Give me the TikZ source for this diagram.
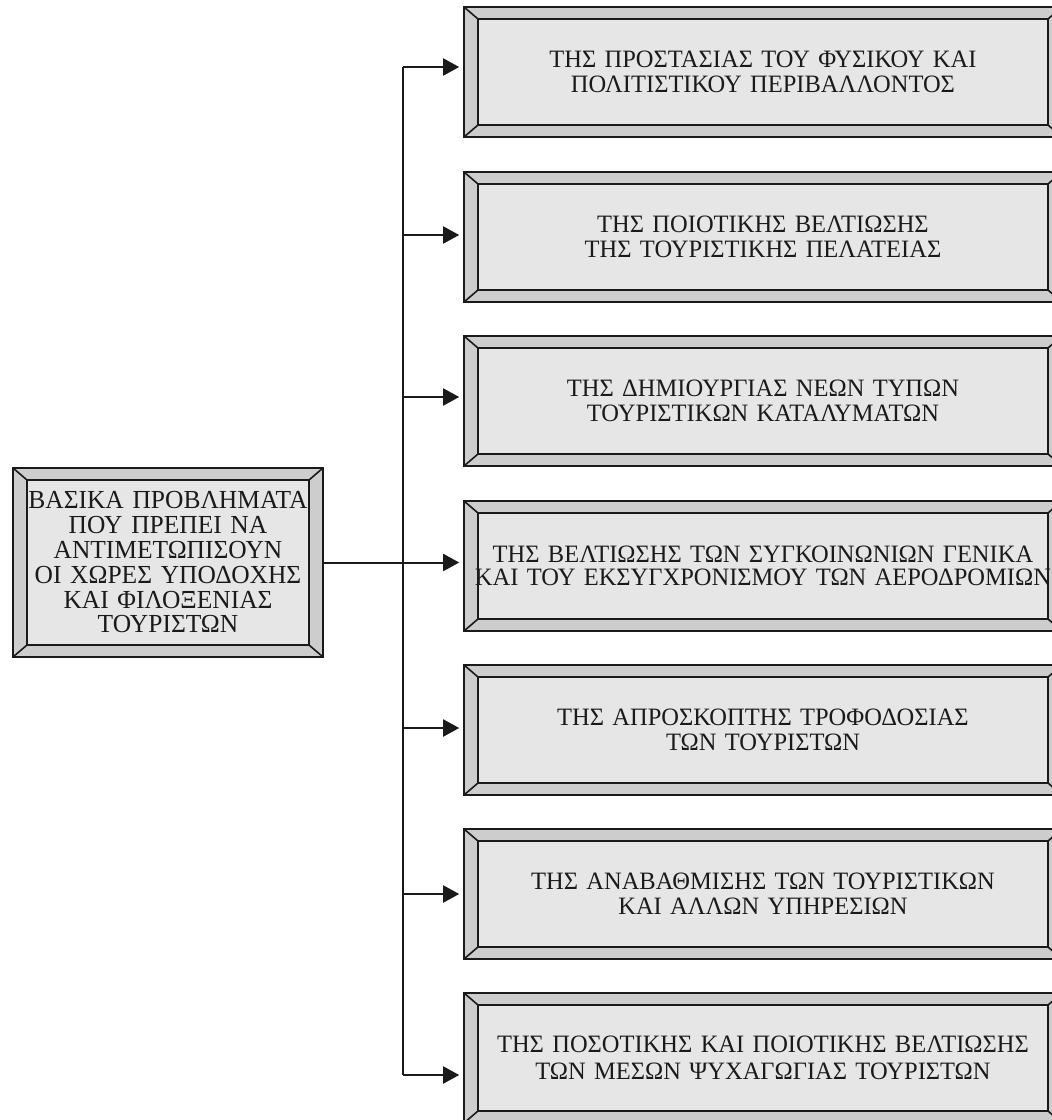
\documentclass[tikz,border=0pt]{standalone}
\usepackage{fontspec}
\setmainfont{Liberation Serif}[FakeStretch=0.98]
\usetikzlibrary{arrows.meta}
\definecolor{bevelside}{HTML}{CDCDCD}
\definecolor{bevelface}{HTML}{E6E6E6}
\definecolor{inkline}{HTML}{1A1A1A}
\begin{document}
\begin{tikzpicture}[x=0.5pt, y=-0.5pt,
    bevel/.style={draw=inkline, line width=0.8pt, fill=bevelside, inner sep=0pt,
        align=center, text=inkline,
        path picture={
            \draw[inkline, line width=0.8pt, fill=bevelface]
                ([shift={(7pt,-6pt)}]path picture bounding box.north west) rectangle
                ([shift={(-7pt,6pt)}]path picture bounding box.south east);
            \draw[inkline, line width=0.8pt]
                (path picture bounding box.north west) -- ([shift={(7pt,-6pt)}]path picture bounding box.north west)
                (path picture bounding box.north east) -- ([shift={(-7pt,-6pt)}]path picture bounding box.north east)
                (path picture bounding box.south west) -- ([shift={(7pt,6pt)}]path picture bounding box.south west)
                (path picture bounding box.south east) -- ([shift={(-7pt,6pt)}]path picture bounding box.south east);
        }},
    topic/.style={bevel, text width=299pt, minimum height=65pt,
        font=\fontsize{12.5pt}{12.6pt}\selectfont},
    feed/.style={-{Triangle[length=8pt, width=8.5pt]}, line width=1pt, draw=inkline, shorten >=2pt}]
\useasboundingbox (0,0) rectangle (1052,1120);
\clip (0,0) rectangle (1052,1120);
\node[bevel, text width=155pt, minimum height=94.5pt,
      font=\fontsize{13pt}{12.4pt}\selectfont] (root) at (168,562.5)
    {ΒΑΣΙΚΑ ΠΡΟΒΛΗΜΑΤΑ\\ΠΟΥ ΠΡΕΠΕΙ ΝΑ\\ΑΝΤΙΜΕΤΩΠΙΣΟΥΝ\\ΟΙ ΧΩΡΕΣ ΥΠΟΔΟΧΗΣ\\ΚΑΙ ΦΙΛΟΞΕΝΙΑΣ\\ΤΟΥΡΙΣΤΩΝ};
\node[topic] (b1) at (763,72) {ΤΗΣ ΠΡΟΣΤΑΣΙΑΣ ΤΟΥ ΦΥΣΙΚΟΥ ΚΑΙ\\ΠΟΛΙΤΙΣΤΙΚΟΥ ΠΕΡΙΒΑΛΛΟΝΤΟΣ};
\node[topic] (b2) at (763,237) {ΤΗΣ ΠΟΙΟΤΙΚΗΣ ΒΕΛΤΙΩΣΗΣ\\ΤΗΣ ΤΟΥΡΙΣΤΙΚΗΣ ΠΕΛΑΤΕΙΑΣ};
\node[topic] (b3) at (763,401) {ΤΗΣ ΔΗΜΙΟΥΡΓΙΑΣ ΝΕΩΝ ΤΥΠΩΝ\\ΤΟΥΡΙΣΤΙΚΩΝ ΚΑΤΑΛΥΜΑΤΩΝ};
\node[topic, font=\fontsize{12.5pt}{11.2pt}\selectfont] (b4) at (763,566)
    {ΤΗΣ ΒΕΛΤΙΩΣΗΣ ΤΩΝ ΣΥΓΚΟΙΝΩΝΙΩΝ ΓΕΝΙΚΑ\\ΚΑΙ ΤΟΥ ΕΚΣΥΓΧΡΟΝΙΣΜΟΥ ΤΩΝ ΑΕΡΟΔΡΟΜΙΩΝ};
\node[topic] (b5) at (763,730) {ΤΗΣ ΑΠΡΟΣΚΟΠΤΗΣ ΤΡΟΦΟΔΟΣΙΑΣ\\ΤΩΝ ΤΟΥΡΙΣΤΩΝ};
\node[topic] (b6) at (763,894) {ΤΗΣ ΑΝΑΒΑΘΜΙΣΗΣ ΤΩΝ ΤΟΥΡΙΣΤΙΚΩΝ\\ΚΑΙ ΑΛΛΩΝ ΥΠΗΡΕΣΙΩΝ};
\node[topic, font=\fontsize{12.5pt}{13.4pt}\selectfont] (b7) at (763,1058)
    {ΤΗΣ ΠΟΣΟΤΙΚΗΣ ΚΑΙ ΠΟΙΟΤΙΚΗΣ ΒΕΛΤΙΩΣΗΣ\\ΤΩΝ ΜΕΣΩΝ ΨΥΧΑΓΩΓΙΑΣ ΤΟΥΡΙΣΤΩΝ};
% trunk
\coordinate (j1) at (403,67);
\coordinate (j2) at (403,235);
\coordinate (j3) at (403,397);
\coordinate (j5) at (403,728);
\coordinate (j6) at (403,894);
\coordinate (j7) at (403,1075);
\draw[inkline, line width=1.4pt] (j1) -- (j7);
\draw[feed] (j1) -- (j1 -| b1.west);
\draw[feed] (j2) -- (j2 -| b2.west);
\draw[feed] (j3) -- (j3 -| b3.west);
\draw[feed] (root.east) -- (root.east -| b4.west);
\draw[feed] (j5) -- (j5 -| b5.west);
\draw[feed] (j6) -- (j6 -| b6.west);
\draw[feed] (j7) -- (j7 -| b7.west);
\end{tikzpicture}
\end{document}
